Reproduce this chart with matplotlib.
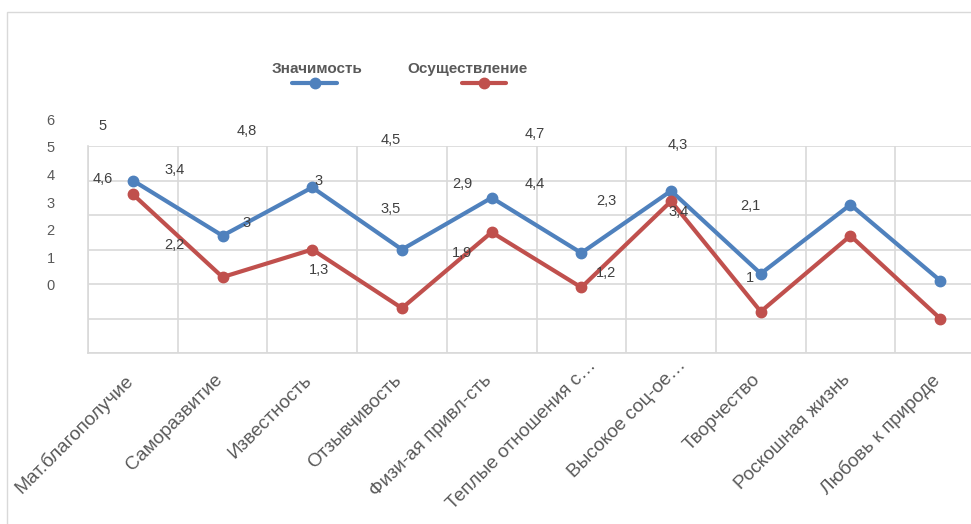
import matplotlib
matplotlib.use("Agg")
import numpy as np
import matplotlib.pyplot as plt
from matplotlib.lines import Line2D
from matplotlib.patches import Rectangle
from matplotlib.transforms import ScaledTranslation

plt.rcParams["font.family"] = ["Liberation Sans", "DejaVu Sans"]

# ---- data -------------------------------------------------------------
categories = [
    "Мат.благополучие",
    "Саморазвитие",
    "Известность",
    "Отзывчивость",
    "Физи-ая привл-сть",
    "Теплые отношения с…",
    "Высокое соц-ое…",
    "Творчество",
    "Роскошная жизнь",
    "Любовь к природе",
]
series_names = ["Значимость", "Осуществление"]
significance = [5, 3.4, 4.8, 3, 4.5, 2.9, 4.7, 2.3, 4.3, 2.1]
realization = [4.6, 2.2, 3, 1.3, 3.5, 1.9, 4.4, 1.2, 3.4, 1]
y_ticks = [0, 1, 2, 3, 4, 5, 6]

# ---- style ------------------------------------------------------------
BLUE = "#4F81BD"
RED = "#C0504D"
GRID = "#D9D9D9"
AXIS_TEXT = "#595959"
LABEL_TEXT = "#404040"

W, H = 971, 524
fig = plt.figure(figsize=(W / 100, H / 100), dpi=100)


def px_axes(left, top, right, bottom):
    """Create axes from pixel edges measured from the top-left corner."""
    return fig.add_axes([left / W, 1 - bottom / H, (right - left) / W, (bottom - top) / H])


def fmt(v):
    return f"{v:g}".replace(".", ",")


# chart frame
fig.add_artist(Rectangle((7 / W, -0.1), 1.2, (H - 12) / H + 0.1, fill=False,
                         ec=GRID, lw=1.0, transform=fig.transFigure))

# ---- plot area --------------------------------------------------------
ax = px_axes(88, 146, 985, 353)
x = np.arange(len(categories))
ax.set_xlim(-0.5, len(categories) - 0.5)
ax.set_ylim(0, 6)

for values, color in ((significance, BLUE), (realization, RED)):
    ax.plot(x, values, color=color, lw=3.0, marker="o", ms=7.5,
            solid_joinstyle="round", solid_capstyle="round", zorder=3, clip_on=False)

ax.set_yticks(y_ticks)
ax.set_xticks(x)
ax.set_xticks(np.arange(-0.5, len(categories), 1), minor=True)
ax.tick_params(axis="x", which="both", length=0, labelbottom=False)
ax.tick_params(axis="y", length=0, labelleft=False)
ax.grid(True, which="minor", axis="x", color=GRID, lw=1.2)
ax.grid(True, which="major", axis="y", color=GRID, lw=1.2)
ax.grid(False, which="major", axis="x")
for side in ("top", "right"):
    ax.spines[side].set_visible(False)
for side in ("left", "bottom"):
    ax.spines[side].set_color(GRID)
    ax.spines[side].set_linewidth(1.2)
ax.set_axisbelow(True)

# rotated category labels hanging below the axis; truncated names keep the
# text before the ellipsis aligned with the tick
for xi, name in zip(x, categories):
    dx, dy = -9, -18.5
    if name.endswith("…"):
        dx, dy = dx + 15, dy + 15
    offset = ScaledTranslation(dx / 100, dy / 100, fig.dpi_scale_trans)
    ax.text(xi, 0, name, transform=ax.get_xaxis_transform() + offset,
            rotation=45, ha="right", va="top", rotation_mode="anchor",
            fontsize=13.7, color=AXIS_TEXT, clip_on=False)

# ---- value axis labels and data labels --------------------------------
lab = px_axes(67, 119, 786, 285)
lab.set_xlim(-0.5, len(categories) - 0.5)
lab.set_ylim(0, 6)
lab.patch.set_visible(False)
for s in lab.spines.values():
    s.set_visible(False)
lab.set_xticks([])
lab.set_yticks(y_ticks)
lab.tick_params(axis="y", length=0, pad=9, labelsize=10.5, labelcolor=AXIS_TEXT)

for values, dy in ((significance, 15), (realization, -15)):
    for i, v in enumerate(values):
        lab.annotate(fmt(v), (i, v), xytext=(0, dy), textcoords="offset points",
                     ha="center", va="center", fontsize=10.5, color=LABEL_TEXT)

# ---- legend -----------------------------------------------------------
legend_items = [
    (series_names[0], BLUE, 317.5, (292, 337)),
    (series_names[1], RED, 467.5, (462, 506)),
]
for name, color, text_x, (x0, x1) in legend_items:
    fig.text(text_x / W, 1 - 69 / H, name, ha="center", va="center",
             fontsize=11, fontweight="bold", color=AXIS_TEXT)
    xm = (x0 + x1) / 2
    fig.add_artist(Line2D([x0 / W, xm / W, x1 / W], [1 - 83 / H] * 3,
                          transform=fig.transFigure, color=color, lw=3.0,
                          marker="o", ms=7.5, markevery=[1],
                          solid_capstyle="round"))

fig.savefig("out.png", dpi=100)
